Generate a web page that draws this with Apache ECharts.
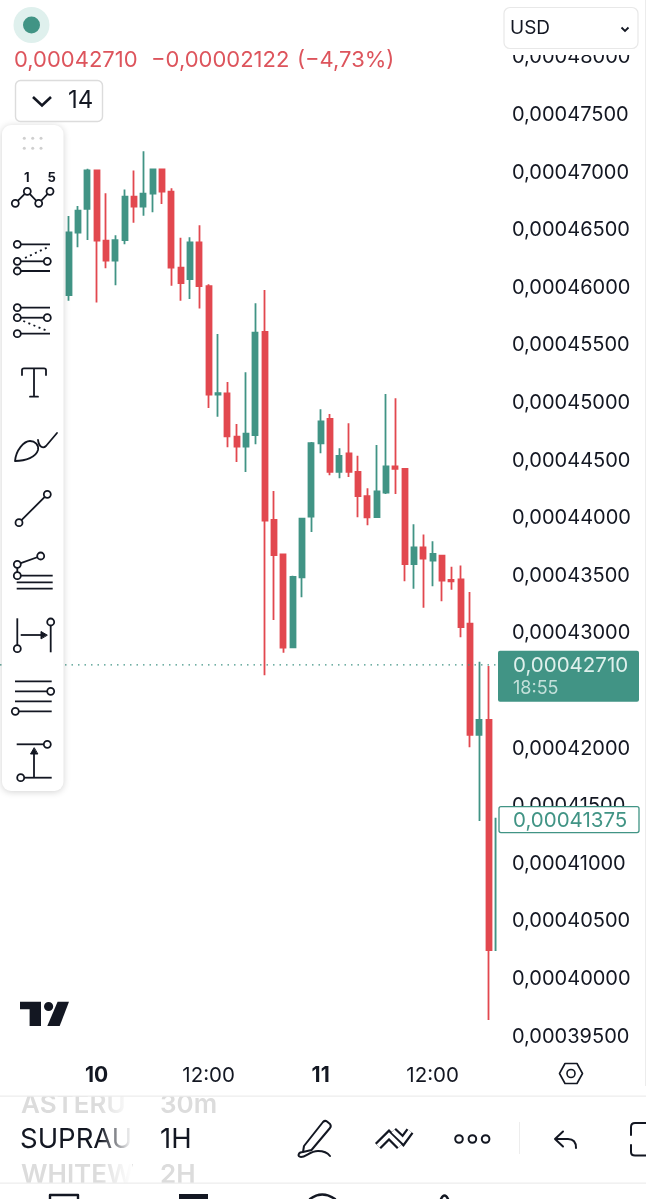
<!DOCTYPE html>
<html>
<head>
<meta charset="utf-8">
<style>html,body{margin:0;padding:0;background:#fff}#chart{width:646px;height:1199px}</style>
<script src="https://cdn.jsdelivr.net/npm/echarts@6/dist/echarts.min.js"></script>
</head>
<body>
<div id="chart"></div>
<script>
const GREEN = '#419485';
const RED = '#e2484f';
const INK = '#131722';
const FONT = 'Inter';

const candleIndex = [0,1,2,3,4,5,6,7,8,9,10,11,12,13,14,15,16,17,18,19,20,21,22,23,24,25,26,27,28,29,30,31,32,33,34,35,36,37,38,39,40,41,42,43,44,45,46];
const opens = [0.00045920,0.00046461,0.00046667,0.00047002,0.00046392,0.00046218,0.00046397,0.00046774,0.00046687,0.00046800,0.00047011,0.00046817,0.00046157,0.00046059,0.00046377,0.00045998,0.00045055,0.00045066,0.00044690,0.00044604,0.00044705,0.00045599,0.00043967,0.00043669,0.00042862,0.00043469,0.00043996,0.00044633,0.00044844,0.00044384,0.00044546,0.00044384,0.00044175,0.00043993,0.00044204,0.00044433,0.00044410,0.00043585,0.00043730,0.00043614,0.00043657,0.00043446,0.00043452,0.00043067,0.00042101,0.00042231,0.00040234];
const closes = [0.00046464,0.00046652,0.00047002,0.00046392,0.00046218,0.00046397,0.00046774,0.00046687,0.00046800,0.00047011,0.00046817,0.00046157,0.00046024,0.00046377,0.00045998,0.00045055,0.00045069,0.00044693,0.00044604,0.00044716,0.00045593,0.00043961,0.00043663,0.00042859,0.00043472,0.00043979,0.00044635,0.00044823,0.00044384,0.00044523,0.00044384,0.00044175,0.00043990,0.00044216,0.00044433,0.00044410,0.00043585,0.00043730,0.00043631,0.00043672,0.00043440,0.00043435,0.00043038,0.00042101,0.00042231,0.00040234,0.00041375];
const lows = [0.00045871,0.00046334,0.00046397,0.00045854,0.00046152,0.00046004,0.00046360,0.00046548,0.00046609,0.00046638,0.00046710,0.00046001,0.00045871,0.00045885,0.00045804,0.00044939,0.00044864,0.00044598,0.00044470,0.00044384,0.00044624,0.00042619,0.00043099,0.00042815,0.00042862,0.00043296,0.00043863,0.00044546,0.00044355,0.00044329,0.00044340,0.00043990,0.00043921,0.00043993,0.00044193,0.00044193,0.00043435,0.00043371,0.00043206,0.00043391,0.00043261,0.00043362,0.00042949,0.00041994,0.00041354,0.00039627,0.00040234];
const highs = [0.00046606,0.00046693,0.00047017,0.00047002,0.00046803,0.00046438,0.00046837,0.00047002,0.00047167,0.00047011,0.00047011,0.00046846,0.00046418,0.00046421,0.00046525,0.00046013,0.00045582,0.00045165,0.00044800,0.00045249,0.00045848,0.00045964,0.00044219,0.00043669,0.00043484,0.00043979,0.00044644,0.00044928,0.00044887,0.00044589,0.00044806,0.00044525,0.00044242,0.00044618,0.00045061,0.00045023,0.00044410,0.00043929,0.00043840,0.00043782,0.00043657,0.00043562,0.00043571,0.00043342,0.00042737,0.00042700,0.00041375];

const priceTicks = [0.000395,0.0004,0.000405,0.00041,0.000415,0.00042,0.000425,0.00043,0.000435,0.00044,0.000445,0.00045,0.000455,0.00046,0.000465,0.00047,0.000475,0.00048];
const timeTicks = [3, 15, 27, 39];
const timeLabels = ['10', '12:00', '11', '12:00'];
const lastPrice = 0.00042710;
const markPrice = 0.00041375;
const xMin = -7.36;
const xMax = 45.9;

const fmtPrice = (v) => v.toFixed(8).replace('.', ',');
const candles = candleIndex.map((x, i) => [x, opens[i], closes[i], lows[i], highs[i]]);

const chart = echarts.init(document.getElementById('chart'), null, {renderer: 'canvas'});

chart.setOption({
  animation: false,
  backgroundColor: '#fff',
  textStyle: {fontFamily: FONT},
  grid: {left: 0, top: 50, width: 497, height: 1003},
  xAxis: {
    type: 'value',
    min: xMin,
    max: xMax,
    splitLine: {show: false},
    axisLine: {show: false},
    axisTick: {show: false},
    axisLabel: {
      customValues: timeTicks,
      margin: 12,
      fontFamily: FONT,
      fontSize: 20.5,
      color: INK,
      formatter: (v) => {
        const label = timeLabels[timeTicks.indexOf(v)];
        return label.includes(':') ? label : `{day|${label}}`;
      },
      rich: {day: {fontFamily: FONT, fontSize: 21, fontWeight: 700, color: INK}}
    }
  },
  yAxis: {
    type: 'value',
    position: 'right',
    min: 0.00039340,
    max: 0.00048047,
    splitLine: {show: false},
    axisLine: {show: false},
    axisTick: {show: false},
    axisLabel: {
      customValues: priceTicks,
      margin: 15,
      align: 'left',
      fontFamily: FONT,
      fontSize: 20,
      color: INK,
      formatter: (v) => `{p|${fmtPrice(v)}}`,
      rich: {p: {fontFamily: FONT, fontSize: 20, color: INK, padding: [4, 0, 0, 0]}}
    }
  },
  series: [{
    type: 'line',
    z: 3,
    silent: true,
    symbol: 'none',
    lineStyle: {color: GREEN, type: [1.5, 5], width: 1.2},
    data: [[xMin, lastPrice], [xMax, lastPrice]]
  }, {
    type: 'candlestick',
    z: 2,
    barWidth: 5.6,
    encode: {x: 0, y: [1, 2, 3, 4]},
    itemStyle: {color: GREEN, color0: RED, borderColor: GREEN, borderColor0: RED, borderWidth: 1.8},
    data: candles
  }]
});

// chrome drawn around the chart: panels, tags, icons
const Z = 50;
let pathCount = 0;
const poly = (points, o = {}) => ({type: 'polyline', z: o.z || Z + 2, shape: {points},
  style: {stroke: o.color || INK, lineWidth: o.w || 1.8, fill: null, lineDash: o.dash || null}});
const dot = (cx, cy, r = 3.5, o = {}) => ({type: 'circle', z: Z + 3, shape: {cx, cy, r},
  style: {fill: o.fill || '#fff', stroke: o.color || INK, lineWidth: o.w || 1.8}});
const rect = (x, y, width, height, style, r = 0, z = Z) => ({type: 'rect', z, shape: {x, y, width, height, r}, style});
const label = (text, x, y, size, fill, o = {}) => ({type: 'text', z: o.z || Z + 3, x, y,
  style: {text, fill, fontFamily: FONT, fontSize: size, fontWeight: o.weight || 400,
    verticalAlign: 'middle', align: o.align || 'left'}});
// graphic has no plain svg path type, so register one shape per icon
const path = (pathData, o = {}) => {
  const name = 'icon' + (pathCount++);
  echarts.graphic.registerShape(name, echarts.graphic.extendPath(pathData, {}));
  return {type: name, z: o.z || Z + 2,
    style: {stroke: o.color || INK, lineWidth: o.w === undefined ? 1.8 : o.w, fill: o.fill || null, lineCap: 'round', lineJoin: 'round'}};
};
const fade = (x, y, w, h) => rect(x, y, w, h, {fill: new echarts.graphic.LinearGradient(0, 0, 1, 0, [
  {offset: 0, color: 'rgba(255,255,255,0)'}, {offset: 1, color: '#fff'}])}, 0, Z + 4);

const yLast = chart.convertToPixel({yAxisIndex: 0}, lastPrice);
const yMark = chart.convertToPixel({yAxisIndex: 0}, markPrice);

const els = [
  // header
  rect(498, 0, 148, 55, {fill: '#fff'}),
  {type: 'circle', z: Z + 1, shape: {cx: 31.5, cy: 25, r: 18}, style: {fill: '#dff0ed'}},
  {type: 'circle', z: Z + 2, shape: {cx: 31.5, cy: 25, r: 8.5}, style: {fill: GREEN}},
  label('0,00042710', 14, 60, 22, '#dd545c'),
  label('−0,00002122', 151, 60, 22, '#dd545c'),
  label('(−4,73%)', 297, 60, 22, '#dd545c'),
  rect(504, 7.5, 134, 41, {fill: '#fff', stroke: '#e8e8e8', lineWidth: 1.2}, 6, Z + 1),
  label('USD', 510, 28, 19, INK),
  poly([[621.5, 27.5], [625, 31], [628.5, 27.5]], {w: 1.8}),
  rect(15.5, 80.5, 87, 41, {fill: '#fff', stroke: '#dcdcdc', lineWidth: 1.4}, 5, Z + 1),
  poly([[33, 97], [42, 105.5], [51, 97]], {w: 2.6}),
  label('14', 68, 101, 24, INK),

  // hides the part of the newest candle that runs past the pane
  rect(496.5, 800, 6, 170, {fill: '#fff'}),

  // drawing toolbar
  rect(2, 125, 61.5, 666, {fill: '#fff', shadowColor: 'rgba(0,0,0,0.18)', shadowBlur: 7, shadowOffsetY: 1}, 9),
  ...[24.3, 32.7, 41].flatMap((x) => [138.3, 148.3].map((y) => ({type: 'circle', z: Z + 1, shape: {cx: x, cy: y, r: 1.5}, style: {fill: '#cfcfcf'}}))),

  label('1', 26.7, 178, 13, INK, {weight: 700, align: 'center'}),
  label('5', 51.7, 178, 13, INK, {weight: 700, align: 'center'}),
  poly([[15.3, 203.3], [27.3, 191.3], [38.7, 203.3], [50, 191.3]]),
  dot(15.3, 203.3), dot(27.3, 191.3), dot(38.7, 203.3), dot(50, 191.3),

  poly([[17.3, 244.3], [50, 244.3]]), poly([[17.3, 261.3], [47.3, 261.3]]), poly([[17.3, 271], [50, 271]]),
  poly([[25, 258], [46.7, 247.7]], {dash: [2, 3.5]}),
  dot(17.3, 244.3), dot(17.3, 261.3), dot(47.3, 261.3), dot(17.3, 271),

  poly([[17.3, 307.7], [50, 307.7]]), poly([[17.3, 317.7], [47.3, 317.7]]), poly([[17.3, 333.7], [50, 333.7]]),
  poly([[23.3, 321], [46.7, 330.7]], {dash: [2, 3.5]}),
  dot(17.3, 307.7), dot(17.3, 317.7), dot(47.3, 317.7), dot(17.3, 333.7),

  path('M22 375 V370 Q22 368.3 24 368.3 H44 Q46 368.3 46 370 V375 M34 368.3 V396.7 M30 396.7 H38'),

  path('M15 461 C16 450 24 441 30 441 C35 441 39 445 38 450 C36 457 26 461 15 461 Z M38 440 C39 447 43 449 46 446 L57 433'),

  poly([[19, 522.7], [47.3, 494.3]]),
  dot(19, 522.7), dot(47.3, 494.3),

  poly([[17.3, 564.3], [40.7, 556]]), poly([[17.3, 564.3], [17.3, 575.7], [52.7, 575.7]]),
  poly([[16.7, 582.3], [52.7, 582.3]]), poly([[16.7, 588.7], [52.7, 588.7]]),
  dot(17.3, 564.3), dot(40.7, 556), dot(17.3, 575.7),

  poly([[17.3, 618.3], [17.3, 648]]), poly([[50.7, 622], [50.7, 652.3]]),
  poly([[20.7, 635], [44, 635]]),
  path('M47 635 L41 631.5 L41 638.5 Z', {fill: INK, w: 1}),
  dot(17.3, 648.7), dot(50.7, 622),

  poly([[15, 681.3], [51.7, 681.3]]), poly([[15, 691.3], [50, 691.3]]),
  poly([[15, 701.3], [51.7, 701.3]]), poly([[15.3, 711.3], [51.7, 711.3]]),
  dot(50.7, 691.3), dot(15.3, 711.3),

  poly([[16.7, 744.3], [47, 744.3]]), poly([[20.7, 777.7], [51.7, 777.7]]),
  poly([[34, 777], [34, 751]]),
  path('M34 748 L30.5 754 L37.5 754 Z', {fill: INK, w: 1}),
  dot(47.3, 744.3), dot(20.7, 777.7),

  // price tags on the axis
  rect(498, yLast - 14, 141, 51, {fill: GREEN}, 2),
  label(fmtPrice(lastPrice), 513, yLast + 1, 20.5, '#dff0ec'),
  label('18:55', 513, yLast + 24, 18, '#c3e0da'),
  rect(499, yMark - 12, 140, 26, {fill: '#fff', stroke: GREEN, lineWidth: 1.3}, 2, Z + 1),
  label(fmtPrice(markPrice), 513, yMark + 2, 20.5, GREEN),
  rect(645, 0, 1, 1096, {fill: '#ececec'}),

  // logo + settings
  path('M20 1001.7 H41 V1026 H29.6 V1009.3 H20 Z', {fill: INK, w: 0}),
  {type: 'circle', z: Z + 2, shape: {cx: 48.6, cy: 1006.5, r: 4.6}, style: {fill: INK}},
  path('M57.6 1001.7 H69 L59.7 1026 H47.3 Z', {fill: INK, w: 0}),
  path('M559.5 1073.5 L565 1063.5 H577 L582.5 1073.5 L577 1083.5 H565 Z', {w: 1.6}),
  {type: 'circle', z: Z + 2, shape: {cx: 571, cy: 1073.5, r: 4}, style: {fill: null, stroke: INK, lineWidth: 1.6}},

  // bottom toolbar
  label('ASTERU', 21, 1105, 26, '#dcdcdc', {weight: 600}),
  label('30m', 160, 1105, 26, '#dcdcdc', {weight: 600}),
  label('SUPRAU', 20, 1140, 27.5, INK, {weight: 400}),
  label('1H', 160, 1140, 27.5, INK, {weight: 400}),
  label('WHITEW', 21, 1175, 26, '#dcdcdc', {weight: 600}),
  label('2H', 160, 1175, 26, '#dcdcdc', {weight: 600}),
  fade(100, 1095, 32, 88),
  rect(0, 1086, 646, 10, {fill: '#fff'}, 0, Z + 5),
  rect(0, 1095.5, 646, 1.2, {fill: '#ededed'}, 0, Z + 6),
  rect(0, 1183, 646, 16, {fill: '#fff'}, 0, Z + 5),
  rect(0, 1182.5, 646, 1.2, {fill: '#ededed'}, 0, Z + 6),

  path('M304 1146 L323 1122 Q325 1120 327 1121.5 L330 1124 Q331.5 1126 330 1128 L311.5 1150 L303 1152 Z M303 1152 C298 1152 297 1157 301 1157 C306 1157 310 1151 318 1151 C323 1151 327 1152 330 1156', {w: 2}),

  poly([[378, 1146], [389, 1135], [400, 1146]], {w: 8.5}),
  poly([[378, 1146], [389, 1135], [400, 1146]], {w: 4, color: '#fff', z: Z + 3}),
  poly([[393, 1131], [403, 1140.5], [410, 1131]], {w: 8.5}),
  poly([[393, 1131], [403, 1140.5], [410, 1131]], {w: 4, color: '#fff', z: Z + 3}),

  dot(459, 1139, 3.8, {w: 2}), dot(472.4, 1139, 3.8, {w: 2}), dot(485.6, 1139, 3.8, {w: 2}),
  rect(519, 1122, 1, 32, {fill: '#ededed'}),
  path('M563 1131.5 L555 1139 L563 1146.5 M555 1139 H568 Q576 1139 576 1148', {w: 2}),
  path('M646 1123 H635 Q631 1123 631 1127 V1135 M631 1145 V1152 Q631 1155.5 635 1155.5 H646', {w: 2}),

  // bottom nav, cut by the window edge
  path('M50 1199 V1195 H78 V1199', {w: 2.4, z: Z + 7}),
  rect(179, 1194, 29, 5, {fill: INK}, 0, Z + 7),
  path('M310 1199 Q322 1190 335 1199', {w: 2.4, z: Z + 7}),
  path('M441 1199 Q444.5 1192 448 1199', {w: 2.4, z: Z + 7})
];

chart.setOption({graphic: {elements: els}});
</script>
</body>
</html>
